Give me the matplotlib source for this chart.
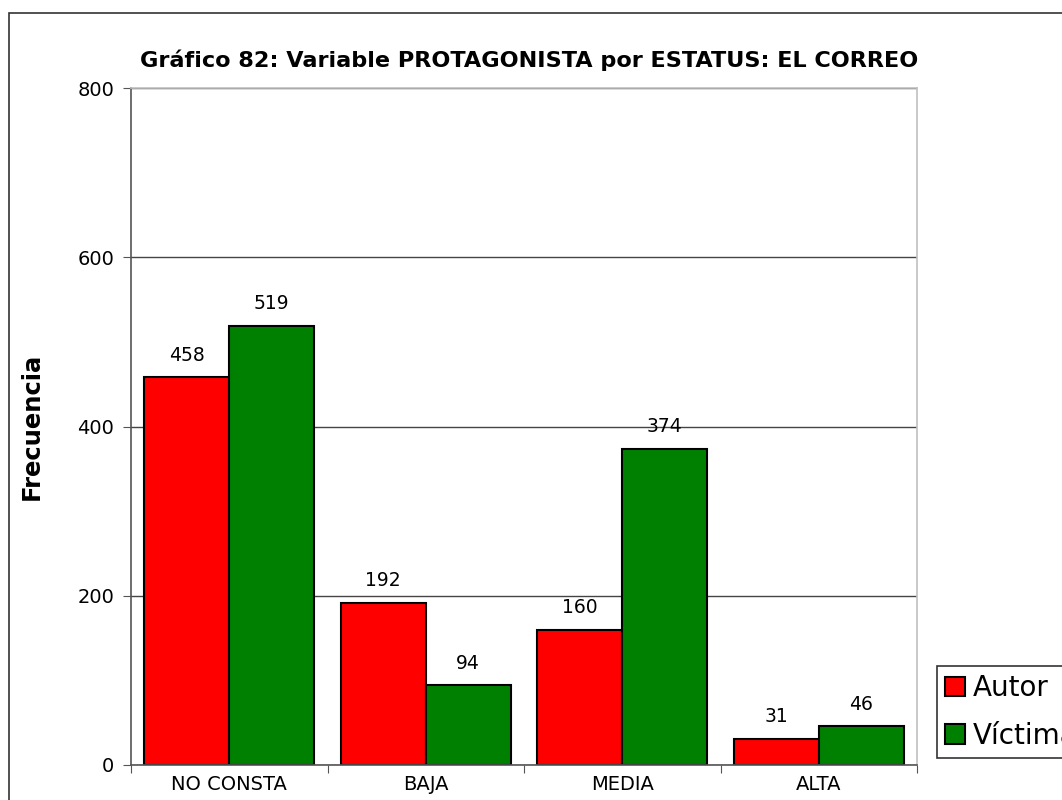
import numpy as np
import matplotlib
matplotlib.use('Agg')
import matplotlib.pyplot as plt
from matplotlib.patches import Rectangle, Patch

# frecuencias por estatus
categorias = ['NO CONSTA', 'BAJA', 'MEDIA', 'ALTA']
autor = [458, 192, 160, 31]
victima = [519, 94, 374, 46]

plt.rcParams['font.family'] = 'DejaVu Sans'

fig = plt.figure(figsize=(10.62, 8), dpi=100)
ax = fig.add_axes([131/1062, 1 - 765/800, (917 - 131)/1062, (765 - 88)/800])

# marco exterior del grafico
fig.patches.append(Rectangle((9/1062, -0.1), 1.2, 1.1 - 13/800,
                             transform=fig.transFigure, fill=False,
                             edgecolor='#333333', linewidth=1.2))

x = np.arange(len(categorias))
w = 0.433
b1 = ax.bar(x - w/2, autor, w, color='#ff0000', edgecolor='black', linewidth=1.5, label='Autor')
b2 = ax.bar(x + w/2, victima, w, color='#008000', edgecolor='black', linewidth=1.5, label='Víctima')

for bars, vals in [(b1, autor), (b2, victima)]:
    for r, v in zip(bars, vals):
        ax.annotate(str(v), (r.get_x() + r.get_width()/2, v), xytext=(0, 9),
                    textcoords='offset points', ha='center', va='bottom', fontsize=13.5)

ax.set_xlim(-0.5, 3.5)
ax.set_ylim(0, 800)
ax.set_yticks([0, 200, 400, 600, 800])
ax.set_yticklabels(['0', '200', '400', '600', '800'], fontsize=14)
ax.yaxis.grid(True, color='#444444', linewidth=1)
ax.set_axisbelow(True)

# ticks del eje x entre categorias
ax.set_xticks(np.arange(-0.5, 4, 1))
ax.set_xticklabels([])
ax.set_xticks(x, minor=True)
ax.set_xticklabels(categorias, minor=True, fontsize=14)
ax.tick_params(axis='x', which='minor', length=0, pad=7)
ax.tick_params(axis='x', which='major', length=6, color='#555555')
ax.tick_params(axis='y', length=6, color='#555555', pad=6)

ax.spines['top'].set_color('#c0c0c0')
ax.spines['right'].set_color('#c0c0c0')
ax.spines['left'].set_color('#555555')
ax.spines['bottom'].set_color('#555555')
for s in ax.spines.values():
    s.set_linewidth(1.2)

ax.set_title('Gráfico 82: Variable PROTAGONISTA por ESTATUS: EL CORREO',
             fontsize=16.1, fontweight='bold', pad=15, x=0.507)
ax.set_ylabel('Frecuencia', fontsize=17.5, fontweight='bold', labelpad=24)

handles = [Patch(facecolor='#ff0000', edgecolor='black', linewidth=1.5),
           Patch(facecolor='#008000', edgecolor='black', linewidth=1.5)]
leg = fig.legend(handles, ['Autor', 'Víctima'], loc='upper left',
                 bbox_to_anchor=(937/1062, 1 - 666/800), fontsize=20,
                 frameon=True, fancybox=False, edgecolor='black',
                 handlelength=0.7, handleheight=0.7, handletextpad=0.3,
                 borderpad=0.3, labelspacing=0.7, borderaxespad=0)
leg.get_frame().set_linewidth(1.2)

fig.savefig('out.png', dpi=100)
